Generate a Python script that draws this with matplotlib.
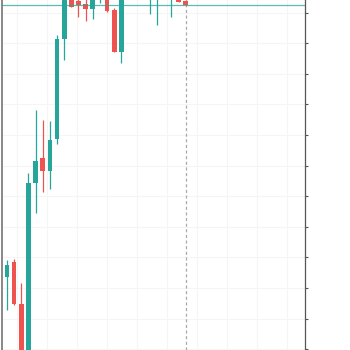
import numpy as np
import matplotlib
matplotlib.use("Agg")
import matplotlib.pyplot as plt

# 캔들 데이터
idx = list(range(-1, 26))
opens = [82.92, 82.73, 83.73, 80.96, 76.00, 88.87, 90.52, 89.67, 91.73, 98.28,
         101.03, 100.76, 100.55, 100.24, 101.30, 101.60, 100.18, 97.41, 101.40, 102.20,
         101.60, 101.20, 101.30, 101.90, 101.00, 101.20, 100.76]
highs = [82.95, 83.84, 83.88, 82.33, 89.52, 93.64, 92.99, 92.94, 98.54, 101.35,
         101.22, 101.09, 100.96, 101.42, 102.20, 101.90, 100.30, 101.80, 102.50, 102.60,
         102.30, 102.00, 102.10, 102.20, 101.80, 101.30, 100.80]
lows = [82.80, 80.57, 80.90, 75.34, 75.50, 86.91, 88.30, 88.48, 91.42, 96.91,
        100.36, 99.74, 99.48, 99.59, 100.63, 100.05, 97.40, 96.73, 101.00, 101.30,
        101.20, 99.92, 99.20, 101.10, 99.74, 100.70, 100.50]
closes = [82.82, 83.51, 80.96, 75.99, 88.87, 90.31, 89.65, 91.68, 98.28, 101.03,
          100.39, 100.50, 100.24, 101.09, 101.80, 100.11, 97.45, 101.48, 102.20, 101.60,
          102.00, 101.70, 101.90, 101.40, 101.50, 100.70, 100.52]

y_ticks = [100, 98, 96, 94, 92, 90, 88, 86, 84, 82, 80, 78]
grid_x = [1.37, 5.57, 9.77, 13.97, 18.17, 22.37, 26.57, 30.77, 34.97, 39.17]

UP = '#26a69a'
DOWN = '#ef5350'

fig = plt.figure(figsize=(3.5, 3.5), dpi=100)
ax = fig.add_axes([1.5 / 350, 0, 303.2 / 350, 1])

# 그리드 (아주 옅게)
for gx in grid_x:
    ax.axvline(gx, color='#f5f5f5', lw=0.8, zorder=0)
for gy in y_ticks:
    ax.axhline(gy, color='#f5f5f5', lw=0.8, zorder=0)

# 캔들 그리기
for i, o, h, l, c in zip(idx, opens, highs, lows, closes):
    color = UP if c >= o else DOWN
    ax.vlines(i, l, h, color=color, lw=0.9, zorder=2)
    ax.bar(i, abs(c - o), bottom=min(o, c), width=0.65, color=color, zorder=3)

# 현재가 라인 / 마지막 캔들 표시
ax.axhline(closes[-1], color=UP, lw=0.9, alpha=0.75, zorder=4)
ax.axvline(idx[-1], color='#aaaaaa', lw=0.9, ls=(0, (2.5, 2)), zorder=1)

ax.set_xlim(-0.77, 41.64)
ax.set_ylim(100.83 - 350 / 15.3, 100.83)
ax.set_xticks([])
ax.set_yticks(y_ticks)
ax.yaxis.tick_right()
ax.tick_params(axis='y', length=2, width=0.8, color='#555555', labelright=False)

ax.spines['top'].set_visible(False)
ax.spines['bottom'].set_visible(False)
ax.spines['left'].set_color('#888888')
ax.spines['left'].set_linewidth(1.4)
ax.spines['right'].set_color('#555555')
ax.spines['right'].set_linewidth(0.9)

fig.savefig("out.png", dpi=100)
